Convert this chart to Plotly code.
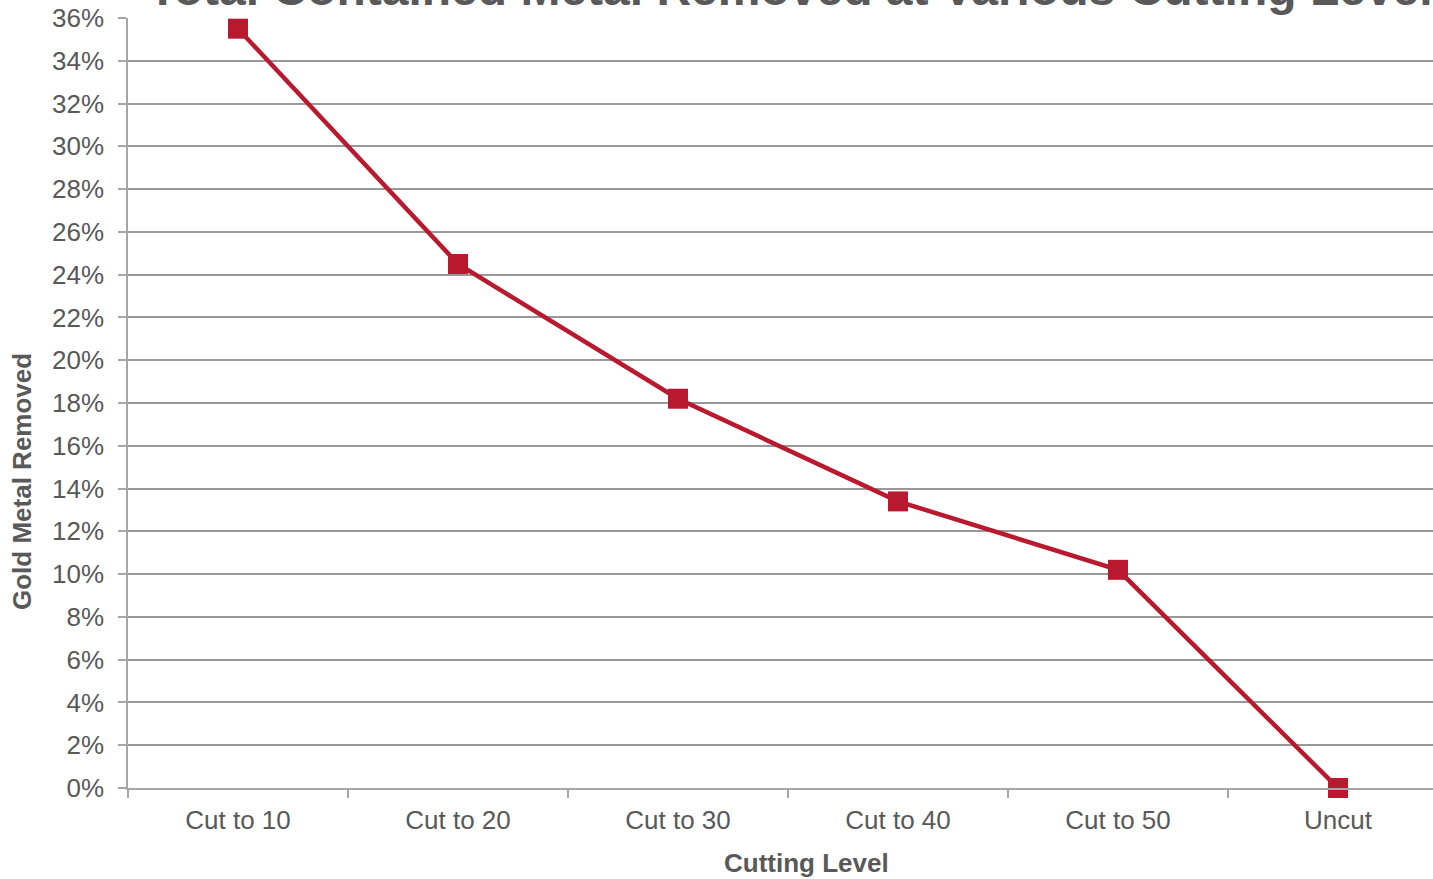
import plotly.graph_objects as go

# Cutting levels and the share of gold metal removed at each
levels = ["Cut to 10", "Cut to 20", "Cut to 30", "Cut to 40", "Cut to 50", "Uncut"]
gold_removed = [0.355, 0.245, 0.182, 0.134, 0.102, 0.0]

title_text = "Total Contained Metal Removed at Various Cutting Levels"
x_title = "Cutting Level"
y_title = "Gold Metal Removed"

FONT = "Liberation Sans, Arial, sans-serif"
TEXT_GRAY = "#595959"
LINE_RED = "#B9192F"
GRID_GRAY = "#989898"
AXIS_GRAY = "#A6A6A6"

fig = go.Figure()
fig.add_trace(go.Scatter(
    x=levels,
    y=gold_removed,
    mode="lines+markers",
    line=dict(color=LINE_RED, width=4.5),
    marker=dict(symbol="square", size=20, color=LINE_RED),
    cliponaxis=False,
    showlegend=False,
))

fig.update_layout(
    width=1433,
    height=879,
    margin=dict(l=128, r=0, t=18, b=91, pad=0),
    paper_bgcolor="white",
    plot_bgcolor="white",
    font=dict(family=FONT, size=26, color=TEXT_GRAY),
    xaxis=dict(
        type="category",
        range=[-0.5, -0.5 + 1305 / 220],
        tickson="boundaries",
        ticks="outside",
        ticklen=8,
        tickwidth=1.5,
        tickcolor=AXIS_GRAY,
        showline=True,
        linecolor=AXIS_GRAY,
        linewidth=2,
        showgrid=False,
        zeroline=False,
        ticklabelstandoff=8,
        tickfont=dict(family=FONT, size=26, color=TEXT_GRAY),
    ),
    yaxis=dict(
        range=[0, 0.36],
        dtick=0.02,
        tick0=0,
        tickformat=".0%",
        ticks="outside",
        ticklen=8,
        tickwidth=1.5,
        tickcolor=AXIS_GRAY,
        showline=True,
        linecolor=AXIS_GRAY,
        linewidth=1.5,
        showgrid=True,
        gridcolor=GRID_GRAY,
        gridwidth=2,
        zeroline=False,
        ticklabelstandoff=9,
        tickfont=dict(family=FONT, size=26, color=TEXT_GRAY),
    ),
    annotations=[
        dict(
            text="<b>" + title_text + "</b>",
            xref="paper", yref="paper",
            x=(803 - 128) / 1305, y=1,
            xanchor="center", yanchor="middle",
            yshift=30,
            showarrow=False,
            font=dict(family=FONT, size=48, color=TEXT_GRAY),
        ),
        dict(
            text="<b>" + x_title + "</b>",
            xref="paper", yref="paper",
            x=(806 - 128) / 1305, y=0,
            xanchor="center", yanchor="middle",
            yshift=-75,
            showarrow=False,
            font=dict(family=FONT, size=26, color=TEXT_GRAY),
        ),
        dict(
            text="<b>" + y_title + "</b>",
            xref="paper", yref="paper",
            x=0, y=(788 - 482) / 770,
            xanchor="center", yanchor="middle",
            xshift=-106,
            textangle=-90,
            showarrow=False,
            font=dict(family=FONT, size=26, color=TEXT_GRAY),
        ),
    ],
)

fig.write_html("out.html")
